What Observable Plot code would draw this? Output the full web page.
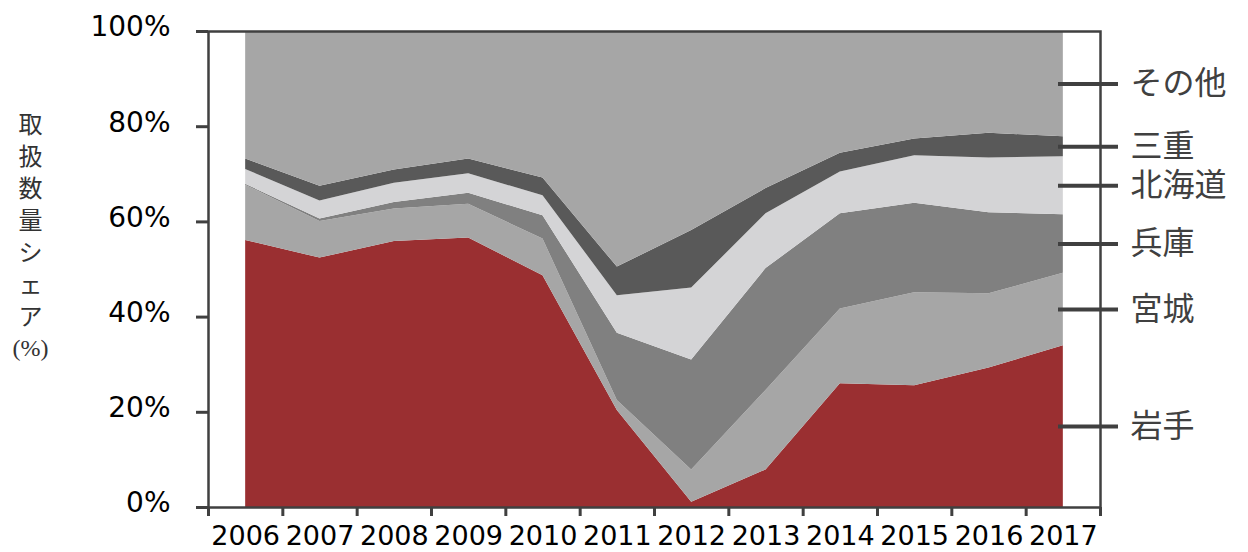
<!DOCTYPE html>
<html>
<head>
<meta charset="utf-8">
<script src="https://cdn.jsdelivr.net/npm/d3@7"></script>
<script src="https://cdn.jsdelivr.net/npm/@observablehq/plot@0.6"></script>
<style>
  html, body { margin: 0; padding: 0; background: #fff; }
</style>
</head>
<body>
<div id="chart"></div>
<script>
// ---- data ----
const years = [2006, 2007, 2008, 2009, 2010, 2011, 2012, 2013, 2014, 2015, 2016, 2017];
const seriesNames = ["岩手", "宮城", "兵庫", "北海道", "三重", "その他"];
const iwate    = [56.1, 52.4, 55.9, 56.6, 48.7, 20.4,  1.1,  7.9, 26.0, 25.6, 29.3, 34.0];
const miyagi   = [11.6,  7.7,  6.8,  7.1,  7.7,  2.1,  6.8, 16.7, 15.7, 19.5, 15.6, 15.2];
const hyogo    = [ 0.2,  0.5,  1.4,  2.3,  4.9, 14.1, 23.1, 25.6, 20.0, 18.8, 17.0, 12.3];
const hokkaido = [ 3.1,  3.8,  4.0,  4.1,  4.2,  7.9, 15.1, 11.5,  8.8, 10.0, 11.5, 12.2];
const mie      = [ 2.2,  3.1,  2.8,  3.1,  3.7,  6.0, 12.1,  5.3,  3.9,  3.5,  5.2,  4.2];
const other    = [26.8, 32.5, 29.1, 26.8, 30.8, 49.5, 41.8, 33.0, 25.6, 22.6, 21.4, 22.1];
const seriesColors = ["#9a2f31", "#a6a6a6", "#808080", "#d4d4d6", "#595959", "#a6a6a6"];
const yTicks = [0, 20, 40, 60, 80, 100];
const yTitleLines = ["取", "扱", "数", "量", "シ", "ェ", "ア", "(%)"];

// ---- build tables ----
const seriesValues = [iwate, miyagi, hyogo, hokkaido, mie, other];
const data = seriesNames.flatMap((s, i) =>
  years.map((yr, j) => ({year: yr, series: s, value: seriesValues[i][j]}))
);
// legend labels at the middle of each layer in the final year
let cum = 0;
const last = years.length - 1;
const labels = seriesNames.map((s, i) => {
  const v = seriesValues[i][last];
  const mid = cum + v / 2;
  cum += v;
  return {series: s, y: mid};
});
const bounds = years.map(y => y - 0.5).concat([years[last] + 0.5]);

const axisColor = "#404040";

const chart = Plot.plot({
  width: 1248,
  height: 552,
  marginLeft: 208,
  marginRight: 148,
  marginTop: 31,
  marginBottom: 45,
  style: {
    fontFamily: "'DejaVu Sans', Verdana, sans-serif",
    fontSize: "27px",
    background: "#fff",
    color: "#000",
    overflow: "visible"
  },
  x: {domain: [years[0] - 0.5, years[last] + 0.5], label: null},
  y: {domain: [0, 100], label: null},
  color: {domain: seriesNames, range: seriesColors},
  marks: [
    Plot.areaY(data, {x: "year", y: "value", z: "series", fill: "series", order: seriesNames}),
    Plot.frame({stroke: axisColor, strokeWidth: 2.5}),
    Plot.axisY({ticks: yTicks, tickSize: 12, tickFormat: () => "", stroke: axisColor, strokeWidth: 3, label: null}),
    Plot.axisY({ticks: yTicks, tickSize: 0, tickPadding: 38, tickFormat: d => d + "%", fill: "#000", dy: -4, fontSize: 28, label: null}),
    Plot.axisX({ticks: bounds, tickSize: 9, tickFormat: () => "", stroke: axisColor, strokeWidth: 3, label: null}),
    Plot.axisX({ticks: years, tickSize: 0, tickPadding: 18, tickFormat: d => String(d), fill: "#000", fontSize: 27, label: null}),
    Plot.ruleY(labels, {y: "y", stroke: axisColor, strokeWidth: 4, insetLeft: 850, insetRight: -18}),
    Plot.text(labels, {
      y: "y", text: "series", frameAnchor: "right", textAnchor: "start", dx: 30,
      fill: axisColor, fontSize: 32, fontFamily: "'DejaVu Sans', 'Noto Sans CJK JP', sans-serif"
    }),
    Plot.text([yTitleLines.join("\n")], {
      frameAnchor: "left", text: d => d, dx: -178, dy: -35, textAnchor: "middle",
      fontSize: 24, lineHeight: 1.33, fill: "#333",
      fontFamily: "'Liberation Serif', 'Noto Sans CJK JP', serif"
    })
  ]
});
document.getElementById("chart").appendChild(chart);
</script>
</body>
</html>
